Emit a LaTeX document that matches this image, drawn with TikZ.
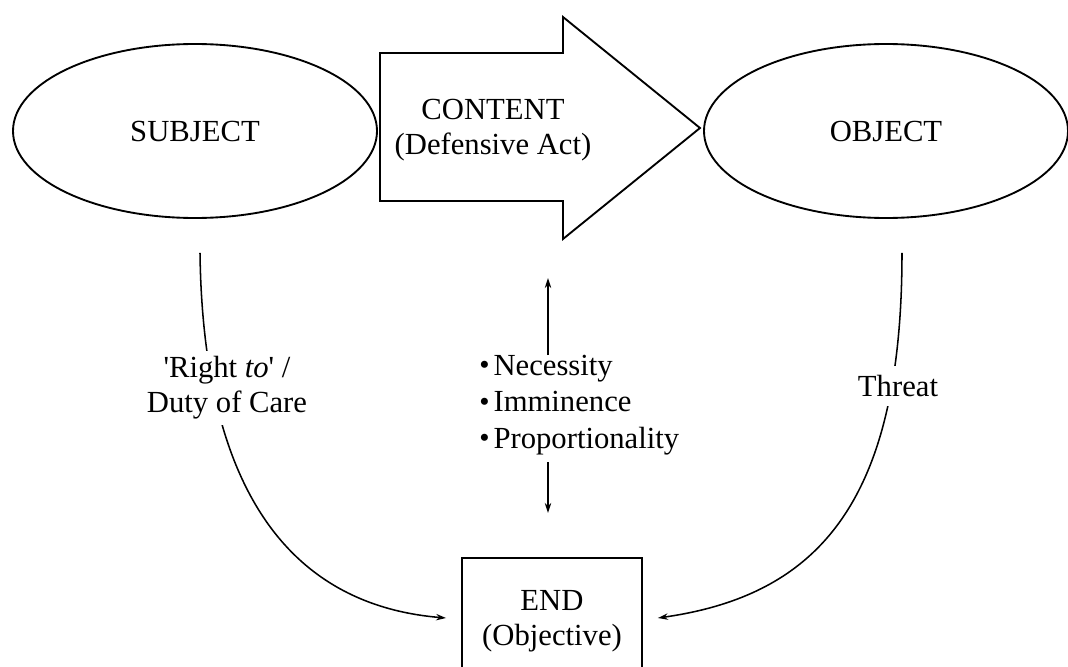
\documentclass[tikz,border=0pt]{standalone}
\usepackage{fontspec}
\setmainfont{Liberation Serif}
\usetikzlibrary{shapes.geometric,arrows.meta,calc}

% round bullet used in the criteria list
\newcommand{\critdot}{\raisebox{0.6pt}{\fontsize{22}{22}\selectfont\textbullet}\hspace{3pt}}

\begin{document}
\begin{tikzpicture}[x=0.75pt,y=-0.75pt,
  txt/.style={font=\fontsize{23}{26.5}\selectfont, align=center},
  oval/.style={draw, ellipse, line width=1.4pt, inner sep=0pt,
    minimum width=273pt, minimum height=130.5pt, txt},
  conn/.style={line width=1.15pt, -{Stealth[length=7.5pt,width=4.8pt]}},
  lbl/.style={txt, fill=white, inner sep=4pt}
]
\useasboundingbox (0,0) rectangle (1068,667);

% the two actors
\node[oval] (subject) at (195,131) {SUBJECT};
\node[oval] (object)  at (886,131) {OBJECT};

% block arrow carrying the defensive act
\draw[line width=1.4pt, fill=white]
  (380,53) -- (563,53) -- (563,17) -- (700,128) -- (563,239)
  -- (563,201) -- (380,201) -- cycle;
\node[txt] (content) at (493,130) {CONTENT\\(Defensive Act)};

% the end, running off the bottom of the page
\node[draw, line width=1.4pt, minimum width=135pt, minimum height=94.5pt,
      txt, anchor=north] (endbox) at (552,557) {END\\(Objective)};

% criteria between act and end
\node[font=\fontsize{23}{27.5}\selectfont, align=left, anchor=west, inner sep=0pt]
  (crit) at (479,405)
  {\critdot Necessity\\ \critdot Imminence\\ \critdot Proportionality};

\coordinate (critTop) at (548,355);
\coordinate (actFoot) at (548,278);
\coordinate (critBot) at (548,462);
\coordinate (endTop)  at (548,513);
\draw[conn] (critTop) -- (actFoot);
\draw[conn] (critBot) -- (endTop);

% subject to end
\draw[conn] ($(subject.south)+(5,34)$)
  .. controls (203,490) and (290,605) .. ($(endbox.north west)+(-15,61)$);
\node[lbl] (right) at (227,388)
  {\textquotesingle Right \textit{to}\textquotesingle\ /\\Duty of Care};

% object to end
\draw[conn] ($(object.south)+(16,34)$)
  .. controls (902,500) and (820,595) .. ($(endbox.north east)+(15,61)$);
\node[lbl, inner ysep=7pt] (threat) at (898,386) {Threat};
\end{tikzpicture}
\end{document}
